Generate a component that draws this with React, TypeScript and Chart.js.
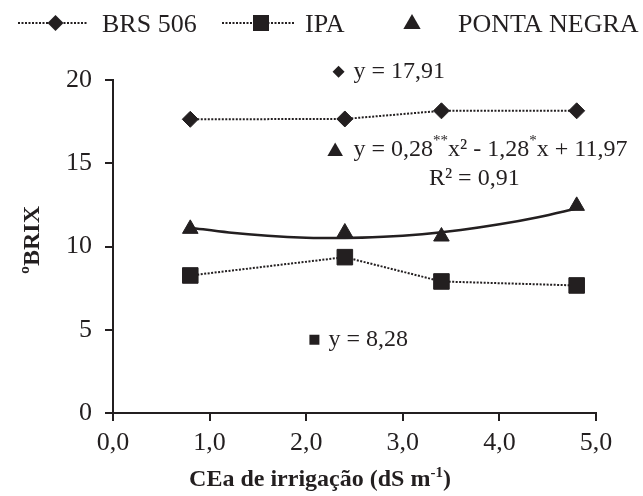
import React, { useEffect, useRef } from 'react';
import { Chart, registerables } from 'chart.js';

Chart.register(...registerables);

// ---- data ----
const xValues = [0.8, 2.4, 3.4, 4.8];
const brs506 = [17.64, 17.66, 18.15, 18.15];
const ipa = [8.26, 9.36, 7.9, 7.66];
const pontaNegra = [11.06, 10.84, 10.6, 12.44];
const trendX = [0.8, 1.2, 1.6, 2.0, 2.4, 2.8, 3.2, 3.6, 4.0, 4.4, 4.8];
const trendY = [11.13, 10.84, 10.64, 10.53, 10.51, 10.58, 10.74, 10.99, 11.33, 11.76, 12.28];
const seriesNames = ['BRS 506', 'IPA', 'PONTA NEGRA'];
const xTitleMain = 'CEa de irrigação (dS m';
const xTitleSup = '-1';
const yTitle = 'ºBRIX';
const eqBrs = 'y = 17,91';
const eqIpa = 'y = 8,28';
const eqPn = [
  { t: 'y = 0,28' },
  { t: '**', sup: true },
  { t: 'x² - 1,28' },
  { t: '*', sup: true },
  { t: 'x + 11,97' },
];
const r2Pn = 'R² = 0,91';

const INK = '#231f20';
const FONT = '"Liberation Serif", "Times New Roman", serif';

function marker(ctx: CanvasRenderingContext2D, kind: string, x: number, y: number, r: number) {
  ctx.save();
  ctx.fillStyle = INK;
  ctx.beginPath();
  if (kind === 'diamond') {
    ctx.moveTo(x - r, y);
    ctx.lineTo(x, y - r);
    ctx.lineTo(x + r, y);
    ctx.lineTo(x, y + r);
  } else if (kind === 'square') {
    ctx.rect(x - r, y - r, 2 * r, 2 * r);
  } else {
    ctx.moveTo(x, y - r);
    ctx.lineTo(x + r * 0.866, y + r * 0.5);
    ctx.lineTo(x - r * 0.866, y + r * 0.5);
  }
  ctx.closePath();
  ctx.fill();
  ctx.restore();
}

function dotted(ctx: CanvasRenderingContext2D, x1: number, x2: number, y: number) {
  ctx.save();
  ctx.strokeStyle = INK;
  ctx.lineWidth = 2;
  ctx.setLineDash([2, 1.5]);
  ctx.beginPath();
  ctx.moveTo(x1, y);
  ctx.lineTo(x2, y);
  ctx.stroke();
  ctx.restore();
}

function drawSegments(
  ctx: CanvasRenderingContext2D,
  segs: { t: string; sup?: boolean }[],
  x: number,
  y: number,
  size: number,
  weight = ''
) {
  let cx = x;
  for (const s of segs) {
    const fs = s.sup ? Math.round(size * 0.62) : size;
    ctx.font = `${weight} ${fs}px ${FONT}`;
    ctx.fillText(s.t, cx, s.sup ? y - size * 0.38 : y);
    cx += ctx.measureText(s.t).width;
  }
  return cx - x;
}

function segWidth(ctx: CanvasRenderingContext2D, segs: { t: string; sup?: boolean }[], size: number, weight = '') {
  let w = 0;
  for (const s of segs) {
    const fs = s.sup ? Math.round(size * 0.62) : size;
    ctx.font = `${weight} ${fs}px ${FONT}`;
    w += ctx.measureText(s.t).width;
  }
  return w;
}

const decorPlugin = {
  id: 'decor',
  afterDraw(chart: any) {
    const ctx: CanvasRenderingContext2D = chart.ctx;
    const xs = chart.scales.x;
    const ys = chart.scales.y;
    ctx.save();
    ctx.fillStyle = INK;
    ctx.textAlign = 'left';

    // legend
    const ly = 23;
    ctx.textBaseline = 'alphabetic';
    ctx.font = `26px ${FONT}`;
    dotted(ctx, 18, 87, ly);
    marker(ctx, 'diamond', 55.5, ly, 8);
    ctx.fillText(seriesNames[0], 102, 31.5);
    dotted(ctx, 222, 295, ly);
    marker(ctx, 'square', 261, ly, 8);
    ctx.fillText(seriesNames[1], 305, 31.5);
    marker(ctx, 'triangle', 412, ly + 1, 10);
    ctx.fillText(seriesNames[2], 458, 31.5);

    // annotations
    ctx.textBaseline = 'middle';
    ctx.font = `24px ${FONT}`;
    let y = ys.getPixelForValue(20.5);
    marker(ctx, 'diamond', xs.getPixelForValue(2.335), y, 6);
    ctx.fillText(eqBrs, xs.getPixelForValue(2.49), y);

    y = ys.getPixelForValue(15.8);
    marker(ctx, 'triangle', xs.getPixelForValue(2.3), y + 1.5, 9);
    drawSegments(ctx, eqPn, xs.getPixelForValue(2.49), y, 24);
    ctx.font = `24px ${FONT}`;
    ctx.textAlign = 'center';
    ctx.fillText(r2Pn, xs.getPixelForValue(3.74), ys.getPixelForValue(14.1));
    ctx.textAlign = 'left';

    y = ys.getPixelForValue(4.4);
    marker(ctx, 'square', xs.getPixelForValue(2.085), y, 5);
    ctx.fillText(eqIpa, xs.getPixelForValue(2.23), y);

    // x title
    ctx.textBaseline = 'alphabetic';
    const segs = [{ t: xTitleMain }, { t: xTitleSup, sup: true }, { t: ')' }];
    const w = segWidth(ctx, segs, 24, 'bold');
    const cx = 320;
    drawSegments(ctx, segs, cx - w / 2, 486, 24, 'bold');

    // y title
    ctx.save();
    ctx.translate(33, 240);
    ctx.rotate(-Math.PI / 2);
    ctx.textAlign = 'center';
    ctx.textBaseline = 'middle';
    ctx.font = `bold 24px ${FONT}`;
    ctx.fillText(yTitle, 0, 0);
    ctx.restore();

    ctx.restore();
  },
};

export default function App() {
  const ref = useRef<HTMLCanvasElement>(null);
  useEffect(() => {
    document.body.style.margin = '0';
    const canvas = ref.current!;
    const tickFont = { family: FONT, size: 26 };
    const chart = new Chart(canvas, {
      type: 'scatter',
      data: {
        datasets: [
          {
            label: seriesNames[0],
            data: xValues.map((x, i) => ({ x, y: brs506[i] })),
            showLine: true,
            borderColor: INK,
            backgroundColor: INK,
            borderWidth: 2,
            borderDash: [2, 1.5],
            pointStyle: 'rectRot',
            pointRadius: 8,
            pointBorderWidth: 1,
          },
          {
            label: seriesNames[1],
            data: xValues.map((x, i) => ({ x, y: ipa[i] })),
            showLine: true,
            borderColor: INK,
            backgroundColor: INK,
            borderWidth: 2,
            borderDash: [2, 1.5],
            pointStyle: 'rect',
            pointRadius: 11,
            pointBorderWidth: 1,
          },
          {
            label: seriesNames[2],
            data: xValues.map((x, i) => ({ x, y: pontaNegra[i] })),
            showLine: false,
            borderColor: INK,
            backgroundColor: INK,
            pointStyle: 'triangle',
            pointRadius: 9,
            pointBorderWidth: 1,
          },
          {
            label: 'trend',
            data: trendX.map((x, i) => ({ x, y: trendY[i] })),
            showLine: true,
            borderColor: INK,
            borderWidth: 2.5,
            pointRadius: 0,
            cubicInterpolationMode: 'monotone',
          },
        ],
      },
      options: {
        responsive: false,
        animation: false,
        devicePixelRatio: 1,
        layout: { padding: { left: 0, right: 47, top: 80, bottom: 0 } },
        plugins: { legend: { display: false }, tooltip: { enabled: false } },
        scales: {
          x: {
            type: 'linear',
            min: 0,
            max: 5,
            afterFit: (s: any) => {
              s.height = 83;
            },
            ticks: {
              stepSize: 1,
              color: INK,
              font: tickFont,
              padding: 7,
              callback: (v: any) => Number(v).toFixed(1).replace('.', ','),
            },
            grid: { drawOnChartArea: false, drawTicks: true, tickLength: 8, color: INK, lineWidth: 2 },
            border: { display: true, color: INK, width: 2 },
          },
          y: {
            type: 'linear',
            min: 0,
            max: 20,
            afterFit: (s: any) => {
              s.width = 113;
            },
            ticks: {
              stepSize: 5,
              color: INK,
              font: tickFont,
              padding: 13,
              callback: (v: any) => String(v),
            },
            grid: { drawOnChartArea: false, drawTicks: true, tickLength: 8, color: INK, lineWidth: 2 },
            border: { display: true, color: INK, width: 2 },
          },
        },
      } as any,
      plugins: [decorPlugin],
    });
    return () => chart.destroy();
  }, []);
  return (
    <div style={{ width: 643, height: 496 }}>
      <canvas ref={ref} width={643} height={496} />
    </div>
  );
}
